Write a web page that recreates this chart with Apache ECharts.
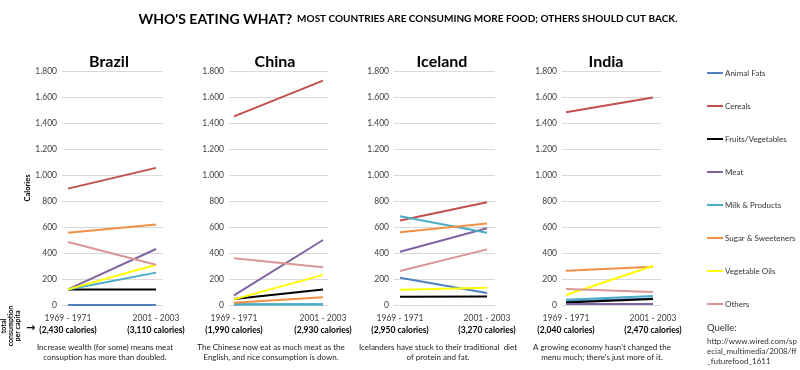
<!DOCTYPE html>
<html>
<head>
<meta charset="utf-8">
<script src="https://cdn.jsdelivr.net/npm/echarts@6/dist/echarts.min.js"></script>
<style>html,body{margin:0;padding:0;background:#fff}#c{width:800px;height:370px}</style>
</head>
<body>
<div id="c"></div>
<script>
const periods = ['1969 - 1971', '2001 - 2003'];
const foods = ['Animal Fats', 'Cereals', 'Fruits/Vegetables', 'Meat', 'Milk & Products', 'Sugar & Sweeteners', 'Vegetable Oils', 'Others'];
const countries = ['Brazil', 'China', 'Iceland', 'India'];
// [1969-1971, 2001-2003] per food, in the order of `foods`
const brazil = [[0, 0], [895, 1055], [120, 120], [120, 431], [120, 249], [556, 620], [120, 310], [485, 310]];
const china = [[3, 3], [1451, 1726], [46, 120], [74, 500], [5, 5], [18, 59], [43, 232], [360, 291]];
const iceland = [[209, 92], [650, 790], [64, 66], [410, 591], [683, 555], [560, 627], [117, 132], [262, 428]];
const india = [[28, 50], [1482, 1597], [20, 46], [8, 8], [40, 70], [264, 295], [77, 300], [123, 100]];
const totalCalories = [['2,430', '3,110'], ['1,990', '2,930'], ['2,950', '3,270'], ['2,040', '2,470']];
const captions = [
  ['Increase wealth (for some) means meat', 'consuption has more than doubled.'],
  ['The Chinese now eat as much meat as the', 'English, and rice consumption is down.'],
  ['Icelanders have stuck to their traditional  diet', 'of protein and fat.'],
  ['A growing economy hasn\'t changed the', 'menu much; there\'s just more of it.']
];
const yTicks = { min: 0, max: 1800, interval: 200 };

const colors = ['#4F81BD', '#C0504D', '#000000', '#8064A2', '#4BACC6', '#F08F45', '#FFFF00', '#D99694'];
const FONT = 'Lato, sans-serif';
const countryData = [brazil, china, iceland, india];

// layout (pixels)
const panels = [
  { gl: 62, gw: 101, pl: 68, pw: 88, cx: 104 },
  { gl: 229, gw: 99, pl: 234, pw: 89, cx: 270 },
  { gl: 394, gw: 101, pl: 400, pw: 87, cx: 437 },
  { gl: 562, gw: 99, pl: 566, pw: 87, cx: 601 }
];
const TOP = 71, H = 234;

const fmtY = v => v >= 1000 ? (v / 1000).toFixed(3) : String(v);

const grids = [], xAxes = [], yAxes = [], series = [], titles = [], graphics = [];
titles.push({
  text: '{a|WHO\'S EATING WHAT?} {b|MOST COUNTRIES ARE CONSUMING MORE FOOD; OTHERS SHOULD CUT BACK.}',
  left: 403, top: 5, textAlign: 'center',
  textStyle: {
    rich: {
      a: { fontFamily: FONT, fontWeight: 'bold', fontSize: 14, color: '#000' },
      b: { fontFamily: FONT, fontWeight: 'bold', fontSize: 10, color: '#000' }
    }
  }
});

panels.forEach((p, i) => {
  grids.push({ left: p.gl, width: p.gw, top: TOP, height: H });
  grids.push({ left: p.pl, width: p.pw, top: TOP, height: H });
  xAxes.push({ gridIndex: 2 * i, type: 'category', data: periods, show: false });
  xAxes.push({
    gridIndex: 2 * i + 1, type: 'category', data: periods, boundaryGap: false,
    axisLine: { show: false }, axisTick: { show: false },
    axisLabel: {
      margin: 7, interval: 0,
      formatter: (v, idx) => '{p|' + v + '}\n{c|(' + totalCalories[i][idx] + ' calories)}',
      rich: {
        p: { fontFamily: FONT, fontSize: 8.5, color: '#404040', lineHeight: 12, align: 'center' },
        c: { fontFamily: FONT, fontSize: 8.5, fontWeight: 'bold', color: '#000', lineHeight: 12, align: 'center' }
      }
    }
  });
  yAxes.push({
    gridIndex: 2 * i, type: 'value', min: yTicks.min, max: yTicks.max, interval: yTicks.interval,
    axisLine: { show: false }, axisTick: { show: false },
    axisLabel: { formatter: fmtY, fontFamily: FONT, fontSize: 8.5, color: '#404040', margin: 5 },
    splitLine: { lineStyle: { color: '#D9D9D9', width: 1 } },
    name: i === 0 ? 'Calories' : '', nameLocation: 'middle', nameGap: 30, nameRotate: 90,
    nameTextStyle: { fontFamily: FONT, fontWeight: 'bold', fontSize: 7.5, color: '#000' }
  });
  yAxes.push({
    gridIndex: 2 * i + 1, type: 'value', min: yTicks.min, max: yTicks.max, interval: yTicks.interval,
    show: false, splitLine: { show: false }
  });
  foods.forEach((f, k) => {
    series.push({
      name: f, type: 'line', xAxisIndex: 2 * i + 1, yAxisIndex: 2 * i + 1,
      data: countryData[i][k], symbol: 'none', silent: true,
      lineStyle: { color: colors[k], width: 2 }, itemStyle: { color: colors[k] },
      z: 2 + k
    });
  });
  titles.push({
    text: countries[i], left: p.cx, top: 49, textAlign: 'center',
    textStyle: { fontFamily: FONT, fontWeight: 'bold', fontSize: 16, color: '#000' }
  });
  graphics.push({
    type: 'text', x: p.cx + 1, y: 342,
    style: {
      text: captions[i].join('\n'), align: 'center', lineHeight: 10,
      font: '8px ' + FONT, fill: '#222'
    }
  });
});

graphics.push({
  type: 'text', x: 11, y: 326, rotation: Math.PI / 2,
  style: { text: 'total\nconsumption\nper capita', align: 'center', verticalAlign: 'middle', lineHeight: 7, font: 'bold 7px ' + FONT, fill: '#000' }
});
graphics.push({
  type: 'text', x: 26, y: 323,
  style: { text: '\u2192', font: 'bold 11px DejaVu Sans', fill: '#000' }
});
graphics.push({
  type: 'text', x: 707, y: 323,
  style: { text: 'Quelle:', font: '9.5px ' + FONT, fill: '#333' }
});
graphics.push({
  type: 'text', x: 707, y: 336,
  style: { text: 'http://www.wired.com/sp\necial_multimedia/2008/ff\n_futurefood_1611', lineHeight: 10, font: '8px ' + FONT, fill: '#333' }
});

const chart = echarts.init(document.getElementById('c'), null, { renderer: 'canvas' });
chart.setOption({
  animation: false,
  backgroundColor: '#fff',
  color: colors,
  title: titles,
  legend: {
    data: foods, orient: 'vertical', left: 707, top: 68, itemGap: 23, padding: 0,
    icon: 'rect', itemWidth: 16, itemHeight: 2, selectedMode: false,
    textStyle: { fontFamily: FONT, fontSize: 8, color: '#333', lineHeight: 10, padding: [0, 0, 0, -3] }
  },
  grid: grids, xAxis: xAxes, yAxis: yAxes, series: series, graphic: graphics
});
</script>
</body>
</html>
